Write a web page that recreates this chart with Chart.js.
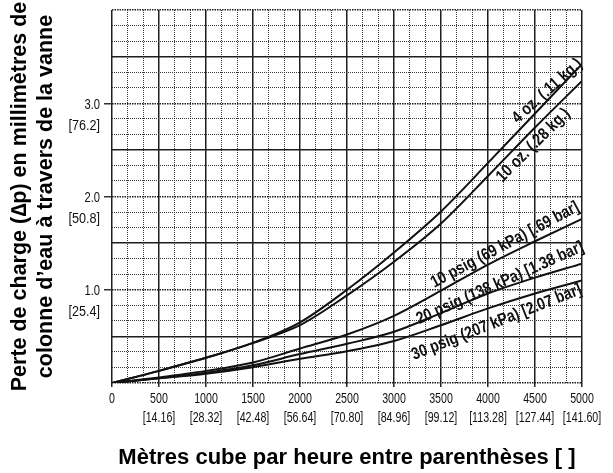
<!DOCTYPE html>
<html>
<head>
<meta charset="utf-8">
<script src="https://cdn.jsdelivr.net/npm/chart.js@4.4.1/dist/chart.umd.min.js"></script>
<style>
    html, body { margin: 0; padding: 0; background: #fff; }
</style>
</head>
<body>
<canvas id="pressure-drop-chart" width="613" height="473"></canvas>
<script>
// flow in the x axis units, with the m3/h equivalents under each label
const flowRates = [0, 500, 1000, 1500, 2000, 2500, 3000, 3500, 4000, 4500, 5000];
const flowMetric = ['', '[14.16]', '[28.32]', '[42.48]', '[56.64]', '[70.80]', '[84.96]', '[99.12]', '[113.28]', '[127.44]', '[141.60]'];

// pressure drop ticks (inches) and mm equivalents
const dropTicks = [1, 2, 3];
const dropTickLabels = ['1.0', '2.0', '3.0'];
const dropMetric = ['[25.4]', '[50.8]', '[76.2]'];

const seriesNames = [
    '4 oz. (.11 kg.)',
    '10 oz. (.28 kg.)',
    '10 psig (69 kPa) [.69 bar]',
    '20 psig (138 kPa) [1.38 bar]',
    '30 psig (207 kPa) [2.07 bar]'
];

// values, one per flow rate
const drop4oz   = [0, 0.13, 0.27, 0.43, 0.65, 1.00, 1.40, 1.84, 2.36, 2.89, 3.42];
const drop10oz  = [0, 0.13, 0.27, 0.43, 0.62, 0.94, 1.30, 1.71, 2.22, 2.74, 3.24];
const drop10psi = [0, 0.06, 0.13, 0.22, 0.37, 0.52, 0.72, 0.99, 1.27, 1.52, 1.76];
const drop20psi = [0, 0.05, 0.11, 0.19, 0.31, 0.42, 0.55, 0.75, 0.96, 1.13, 1.28];
const drop30psi = [0, 0.05, 0.10, 0.17, 0.26, 0.34, 0.45, 0.62, 0.80, 0.96, 1.10];

const allSeries = [drop4oz, drop10oz, drop10psi, drop20psi, drop30psi];

const sansFont = '"Liberation Sans", Arial, Helvetica, sans-serif';

// where each curve name sits (data coords) and its slant
const curveLabels = [
    { text: seriesNames[0], x: 4630, y: 3.13, angle: -42 },
    { text: seriesNames[1], x: 4482, y: 2.55, angle: -45 },
    { text: seriesNames[2], x: 4181, y: 1.48, angle: -28 },
    { text: seriesNames[3], x: 4128, y: 1.07, angle: -24 },
    { text: seriesNames[4], x: 4092, y: 0.65, angle: -21.5 }
];

function isMultiple(value, step) {
    const k = Math.round(value / step);
    return Math.abs(value - k * step) < 1e-6;
}

// the original uses a condensed face; squeeze Liberation Sans to get close
function drawCondensed(ctx, text, x, y, squeeze, angle) {
    ctx.save();
    ctx.translate(x, y);
    if (angle) ctx.rotate(angle * Math.PI / 180);
    ctx.scale(squeeze, 1);
    ctx.fillText(text, 0, 0);
    ctx.restore();
}

const condensedTextPlugin = {
    id: 'condensedText',
    afterDraw(chart) {
        const { ctx, scales: { x, y }, chartArea } = chart;
        ctx.save();
        ctx.fillStyle = '#111';
        ctx.textBaseline = 'middle';

        // x tick labels, two lines each
        ctx.font = '14px ' + sansFont;
        ctx.textAlign = 'center';
        flowRates.forEach((f, i) => {
            const px = x.getPixelForValue(f);
            drawCondensed(ctx, String(f), px, chartArea.bottom + 16.5, 0.76);
            if (flowMetric[i]) drawCondensed(ctx, flowMetric[i], px, chartArea.bottom + 35.5, 0.76);
        });

        // y tick labels
        ctx.textAlign = 'right';
        dropTicks.forEach((t, i) => {
            const py = y.getPixelForValue(t);
            drawCondensed(ctx, dropTickLabels[i], chartArea.left - 12, py + 1.5, 0.8);
            drawCondensed(ctx, dropMetric[i], chartArea.left - 12, py + 22.5, 0.9);
        });

        // curve names
        ctx.font = 'bold 17px ' + sansFont;
        ctx.textAlign = 'center';
        curveLabels.forEach(lbl => {
            drawCondensed(ctx, lbl.text, x.getPixelForValue(lbl.x), y.getPixelForValue(lbl.y), 0.83, lbl.angle);
        });
        ctx.restore();
    }
};

const datasets = allSeries.map((values, i) => ({
    label: seriesNames[i],
    data: flowRates.map((f, j) => ({ x: f, y: values[j] })),
    borderColor: '#111',
    borderWidth: 2,
    pointRadius: 0,
    fill: false,
    cubicInterpolationMode: 'monotone'
}));

new Chart(document.getElementById('pressure-drop-chart'), {
    type: 'line',
    data: { datasets },
    options: {
        responsive: false,
        animation: false,
        devicePixelRatio: 1,
        layout: { padding: { left: 0, right: 31, top: 10, bottom: 0 } },
        plugins: {
            legend: { display: false },
            tooltip: { enabled: false }
        },
        scales: {
            x: {
                type: 'linear',
                min: 0,
                max: 5000,
                afterBuildTicks: scale => {
                    scale.ticks = [];
                    for (let i = 0; i <= 30; i++) scale.ticks.push({ value: i * 5000 / 30 });
                },
                afterFit: scale => { scale.height = 90; },
                ticks: { display: false },
                grid: {
                    color: ctx => isMultiple(ctx.tick.value, 500) ? '#1e1e1e' : '#3a3a3a',
                    lineWidth: ctx => isMultiple(ctx.tick.value, 500) ? 1.5 : 1,
                    tickLength: 4,
                    tickColor: ctx => isMultiple(ctx.tick.value, 500) ? '#222' : 'rgba(0,0,0,0)'
                },
                border: {
                    display: false,
                    dash: ctx => isMultiple(ctx.tick.value, 500) ? [] : [1, 1]
                },
                title: {
                    display: true,
                    text: 'Mètres cube par heure entre parenthèses [ ]',
                    color: '#000',
                    font: { family: sansFont, size: 22, weight: 'bold', lineHeight: 1.2 },
                    padding: { top: 0, bottom: 2 }
                }
            },
            y: {
                type: 'linear',
                min: 0,
                max: 4,
                afterBuildTicks: scale => {
                    scale.ticks = [];
                    for (let i = 0; i <= 24; i++) scale.ticks.push({ value: i / 6 });
                },
                afterFit: scale => { scale.width = 112; },
                ticks: { display: false },
                grid: {
                    color: ctx => isMultiple(ctx.tick.value, 0.5) ? '#1e1e1e' : '#3a3a3a',
                    lineWidth: ctx => isMultiple(ctx.tick.value, 0.5) ? 1.5 : 1,
                    tickLength: 8,
                    tickColor: ctx => dropTicks.some(t => Math.abs(t - ctx.tick.value) < 1e-6) ? '#333' : 'rgba(0,0,0,0)'
                },
                border: {
                    display: false,
                    dash: ctx => {
                        const v = ctx.tick.value;
                        if (isMultiple(v, 0.5) && !isMultiple(v, 1)) return [];
                        return isMultiple(v, 1) ? [1.5, 1] : [1, 1];
                    }
                },
                title: {
                    display: true,
                    text: ['Perte de charge (\u2206p) en millimètres de', 'colonne d\u2019eau à travers de la vanne'],
                    color: '#000',
                    font: { family: sansFont, size: 21.5, weight: 'bold', lineHeight: 1.2 },
                    padding: { top: 7, bottom: 0 }
                }
            }
        }
    },
    plugins: [condensedTextPlugin]
});
</script>
</body>
</html>
